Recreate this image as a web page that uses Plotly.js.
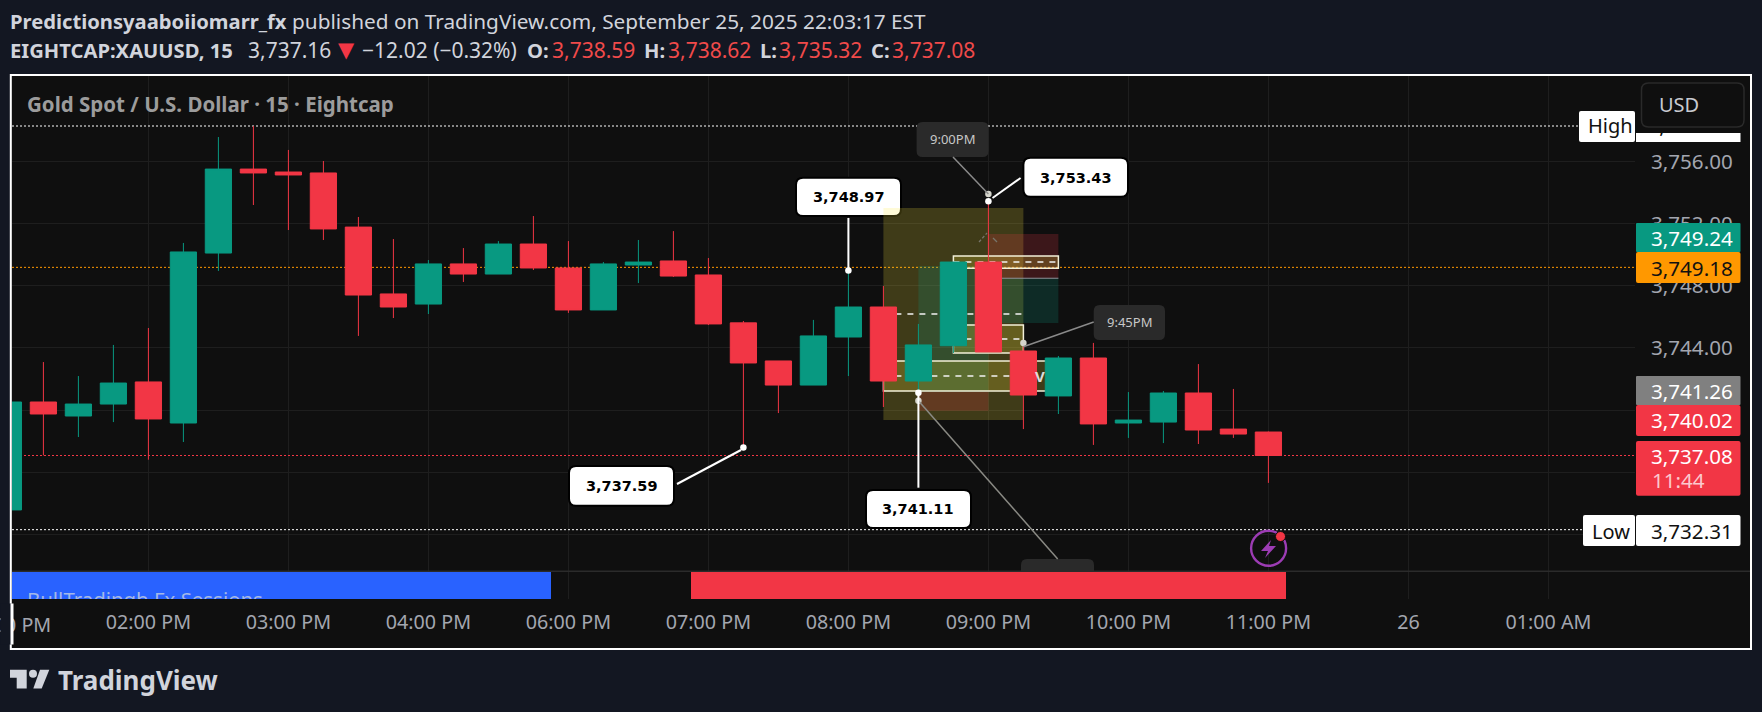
<!DOCTYPE html>
<html><head><meta charset="utf-8">
<script src="https://cdn.plot.ly/plotly-3.0.1.min.js"></script>
<style>html,body{margin:0;padding:0;background:#131722;overflow:hidden}#c{width:1762px;height:712px}</style>
</head><body><div id="c"></div>
<script>
// ---------- data ----------
const barIndex = [-4,-3,-2,-1,0,1,2,3,4,5,6,7,8,9,10,11,12,13,14,15,16,17,18,19,20,21,22,23,24,25,26,27,28,29,30,31,32];
const opens  = [3733.58,3740.52,3739.62,3740.39,3741.81,3739.17,3750.10,3755.50,3755.31,3755.25,3751.77,3747.47,3746.82,3749.40,3748.75,3750.68,3749.14,3746.44,3749.33,3749.59,3748.69,3745.61,3743.16,3741.61,3744.70,3746.63,3741.87,3744.14,3749.52,3743.80,3740.91,3743.35,3739.17,3739.23,3741.10,3738.78,3738.59];
const highs  = [3740.52,3743.09,3742.19,3744.19,3745.28,3750.75,3757.56,3758.27,3756.73,3756.02,3752.42,3751.00,3749.65,3750.42,3750.87,3752.48,3750.87,3749.52,3750.94,3751.51,3749.78,3745.73,3743.16,3745.80,3748.97,3747.98,3745.54,3749.52,3753.43,3744.32,3743.48,3744.32,3741.16,3741.23,3742.96,3741.36,3738.62];
const lows   = [3733.58,3737.09,3738.27,3739.23,3736.81,3737.95,3748.95,3753.19,3751.58,3750.94,3744.77,3745.92,3746.18,3748.24,3748.75,3749.01,3746.25,3746.44,3748.17,3748.56,3745.47,3737.59,3739.81,3741.61,3742.19,3740.20,3741.11,3743.67,3743.74,3738.78,3739.75,3737.76,3738.21,3737.88,3737.82,3738.21,3735.32];
const closes = [3740.52,3739.75,3740.39,3741.74,3739.43,3750.17,3755.50,3755.25,3755.12,3751.65,3747.40,3746.63,3749.40,3748.75,3750.68,3749.14,3746.44,3749.40,3749.52,3748.62,3745.54,3743.03,3741.61,3744.77,3746.63,3741.87,3744.19,3749.52,3743.74,3740.97,3743.35,3739.11,3739.36,3741.10,3738.72,3738.46,3737.08];
const timeTickVals  = [0,4,8,12,16,20,24,28,32,36,40];
const timeTickTexts = ['02:00 PM','03:00 PM','04:00 PM','06:00 PM','07:00 PM','08:00 PM','09:00 PM','10:00 PM','11:00 PM','26','01:00 AM'];
const priceTicks = [3756,3752,3748,3744,3740,3736,3732];
const pivotBars   = [17,20,22,24];
const pivotPrices = [3737.59,3748.97,3741.11,3753.43];
const timeDotBars   = [22,24,25];
const timeDotPrices = [3740.60,3753.90,3744.32];
const sessionStart  = [-12,15.5];
const sessionEnd    = [11.5,32.5];
const sessionColors = ['#2962ff','#f23645'];

// ---------- geometry ----------
const W=1762,H=712;
const pL=12,pR=1635,pT=76,pMid=571.5,pB=599;
const xPx=35, x0Px=148.4;
const pxPerUnit=15.55, y3756=161.3;
const xOf=px=>(px-x0Px)/xPx;
const pOf=py=>3756-(py-y3756)/pxPerUnit;
const fx=x=>x/W, fy=y=>1-y/H;
const green='#089981', red='#f23645', bg='#0f0f0f', page='#131722', grid='#1e1e1e', axisTxt='#a3a6af';
const font='"Noto Sans", sans-serif';
const mono='"DejaVu Sans", sans-serif';

function rrPath(x0,y0,x1,y1,r,mx,my){
  const P=(x,y)=>mx(x)+','+my(y);
  return 'M'+P(x0+r,y0)+' L'+P(x1-r,y0)+' Q'+P(x1,y0)+' '+P(x1,y0+r)+' L'+P(x1,y1-r)+' Q'+P(x1,y1)+' '+P(x1-r,y1)+
         ' L'+P(x0+r,y1)+' Q'+P(x0,y1)+' '+P(x0,y1-r)+' L'+P(x0,y0+r)+' Q'+P(x0,y0)+' '+P(x0+r,y0)+' Z';
}
const paperBox=(x0,y0,x1,y1,r,fill,lc,lw,layer)=>({type:'path',xref:'paper',yref:'paper',layer:layer||'above',path:rrPath(x0,y0,x1,y1,r,fx,fy),fillcolor:fill,line:{color:lc||fill,width:lw==null?0:lw}});
const paperLine=(x0,y0,x1,y1,c,w,dash)=>({type:'line',xref:'paper',yref:'paper',layer:'above',x0:fx(x0),x1:fx(x1),y0:fy(y0),y1:fy(y1),line:{color:c,width:w,dash:dash||'solid'}});
const zone=(a,b,p0,p1,fill,lc,lw)=>({type:'rect',xref:'x',yref:'y',layer:'between',x0:a,x1:b,y0:p0,y1:p1,fillcolor:fill,line:{color:lc||'rgba(0,0,0,0)',width:lw||0}});
const hl=(a,b,p,c,w,dash)=>({type:'line',xref:'x',yref:'y',layer:'between',x0:a,x1:b,y0:p,y1:p,line:{color:c,width:w,dash:dash||'solid'}});
const txt=(t,x,y,size,color,o)=>Object.assign({text:t,xref:'paper',yref:'paper',x:fx(x),y:fy(y),xanchor:'left',yanchor:'middle',showarrow:false,borderpad:0,font:{family:font,size:size,color:color}},o||{});

const xMin=xOf(pL),xMax=xOf(pR);
const yel='rgba(255,235,59,0.2)';
const shapes=[];
const annots=[];

// frame
shapes.push({type:'rect',xref:'paper',yref:'paper',layer:'below',x0:fx(10.8),x1:fx(1751),y0:fy(75),y1:fy(649),fillcolor:bg,line:{color:'#ffffff',width:2}});

// horizontal level lines
const dots='2px,2px';
shapes.push(hl(xMin,xMax,3758.27,'#ffffff',1,dots));
shapes.push(hl(xMin,xMax,3732.31,'#ffffff',1,dots));
shapes.push(hl(xMin,xMax,3749.18,'#ff9800',1,dots));
shapes.push(hl(xMin,xMax,3737.08,'#f23645',1,dots));

// callout below the drawings
shapes.push({type:'path',xref:'x',yref:'y',layer:'between',path:rrPath(796,177.7,901,216,7,xOf,pOf),fillcolor:'#ffffff',line:{color:'#000000',width:2}});
shapes.push({type:'line',xref:'x',yref:'y',layer:'between',x0:20,x1:20,y0:pOf(218),y1:3748.97,line:{color:'#ffffff',width:2}});

// drawings behind the candles
shapes.push(zone(21,25,3753.0,3739.36,yel));
shapes.push(zone(22,24,3749.27,3741.18,'rgba(8,153,129,0.2)'));
shapes.push(zone(22,24,3741.18,3739.96,'rgba(242,54,69,0.2)'));
shapes.push(zone(24,26,3751.32,3748.48,'rgba(242,54,69,0.2)'));
shapes.push(zone(24,26,3748.48,3745.6,'rgba(8,153,129,0.2)'));
shapes.push(hl(24,26,3748.48,'#8d9199',1));
shapes.push(zone(23,26,3749.91,3749.12,yel,'#f2efd8',1.5));
shapes.push(zone(23,25,3745.47,3743.67,yel,'#f2efd8',1.5));
shapes.push(zone(21,26,3743.16,3741.23,yel,'#f2efd8',1.5));
shapes.push(hl(21,25,3746.18,'#f2f2f2',1.5,'6px,6px'));
shapes.push(hl(23,26,3749.52,'#f2f2f2',1.5,'6px,6px'));
shapes.push(hl(23,25,3744.57,'#f2f2f2',1.5,'6px,6px'));
shapes.push(hl(21,25,3742.2,'#f2f2f2',1.5,'6px,6px'));
// little mark on the drawing
shapes.push(paperLine(979,242,987,233,'#77756a',1.2,'3px,2px'));
shapes.push(paperLine(993,238,997,242,'#77756a',1.2));

// separator of session pane
shapes.push(paperLine(12,571.3,1750,571.3,'#2b2b2b',1.5));

// clipped dark label on top of the strip
shapes.push({type:'path',xref:'paper',yref:'paper',layer:'below',path:rrPath(1021,559,1094,590,6,fx,fy),fillcolor:'#2a2a2a',line:{color:'#2a2a2a',width:0}});
shapes.push(paperLine(918.4,400.7,1057.7,559,'#8a8a84',1.5));

// callouts above
shapes.push(paperBox(1023.4,157.7,1128,196.7,7,'#ffffff','#000000',2));
shapes.push(paperLine(1020.6,178,992.5,198,'#ffffff',2));
shapes.push(paperBox(569,466,674,505.7,7,'#ffffff','#000000',2));
shapes.push(paperLine(677,484,741,450,'#ffffff',2));
shapes.push(paperBox(866,490,971,528,7,'#ffffff','#000000',2));
shapes.push(paperLine(918.4,393,918.4,487.7,'#ffffff',2));
shapes.push(paperBox(916.6,122,988.5,157,6,'#2a2a2a'));
shapes.push(paperLine(953,157,988.4,194,'#8a8a8a',1.5));
shapes.push(paperBox(1093.7,305,1165,340,6,'#2a2a2a'));
shapes.push(paperLine(1093.7,322,1023.4,346.7,'#8a8a8a',1.5));

// price scale labels
shapes.push(paperBox(1579,111,1635,142,2,'#ffffff'));
// High value, mostly hidden by the USD button
shapes.push({type:'rect',xref:'paper',yref:'paper',layer:'above',x0:fx(1636),x1:fx(1740.5),y0:fy(111),y1:fy(142),fillcolor:'#ffffff',line:{width:0},
  label:{text:'3,758.27',font:{family:font,size:20.6,color:'#111111'},textposition:'middle center'}});
shapes.push(paperBox(1636,223,1740.5,252,1,green));
shapes.push(paperBox(1636,252,1740.5,283,2,'#ff9800'));
shapes.push(paperBox(1636,376,1740.5,405,1,'#808080'));
shapes.push(paperBox(1636,405,1740.5,436,2,red));
shapes.push(paperBox(1636,441,1740.5,495.7,2,red));
shapes.push(paperBox(1583,515,1635,546,2,'#ffffff'));
shapes.push(paperBox(1636,515,1740.5,546,2,'#ffffff'));
// USD button
shapes.push(paperBox(1636,79,1750,133,0,bg));
shapes.push(paperBox(1641.5,83,1744,127,7,bg,'#2a2a2a',1.5));

// lightning badge
const cx=1268.6,cy=548.3,cr=17.5;
shapes.push({type:'circle',xref:'paper',yref:'paper',layer:'above',x0:fx(cx-cr),x1:fx(cx+cr),y0:fy(cy-cr),y1:fy(cy+cr),fillcolor:'rgba(0,0,0,0)',line:{color:'#9c3cb4',width:2.4}});
const path=(pts)=>'M'+pts.map(p=>fx(p[0])+','+fy(p[1])).join(' L')+' Z';
shapes.push({type:'path',xref:'paper',yref:'paper',layer:'above',path:path([[1271,540],[1261,551],[1268,551],[1265,558],[1276,546],[1269,546]]),fillcolor:'#9c3cb4',line:{width:0}});
shapes.push({type:'circle',xref:'paper',yref:'paper',layer:'above',x0:fx(1275.5),x1:fx(1285.5),y0:fy(531.5),y1:fy(541.5),fillcolor:'#f23645',line:{color:bg,width:1}});

// TradingView logo
const logo='#d1d4dc';
shapes.push({type:'path',xref:'paper',yref:'paper',layer:'above',path:path([[10,669.7],[26.7,669.7],[26.7,688.5],[16.7,688.5],[16.7,677.7],[10,677.7]]),fillcolor:logo,line:{width:0}});
shapes.push({type:'path',xref:'paper',yref:'paper',layer:'above',path:path([[40,669.7],[49.3,669.7],[41.7,688.5],[33.3,688.5]]),fillcolor:logo,line:{width:0}});
shapes.push({type:'circle',xref:'paper',yref:'paper',layer:'above',x0:fx(29),x1:fx(37),y0:fy(669.7),y1:fy(677.7),fillcolor:logo,line:{width:0}});

// ---------- text ----------
const hdr='#d1d4dc', bs=20.2, ns=21;
annots.push(txt('<b>Predictionsyaaboiiomarr_fx</b>',9,21,bs,hdr));
annots.push(txt('published on TradingView.com, September 25, 2025 22:03:17 EST',291,21,20.8,hdr));
annots.push(txt('<b>EIGHTCAP:XAUUSD, 15</b>',9,50,bs,hdr));
annots.push(txt('3,737.16',247,50,ns,hdr));
annots.push(txt('▼',337,50,21,'#f23645',{font:{family:mono,size:21,color:'#f23645'}}));
annots.push(txt('−12.02 (−0.32%)',361,50,ns,hdr));
[['O:',526,'3,738.59',551],['H:',643,'3,738.62',667],['L:',759,'3,735.32',778],['C:',870,'3,737.08',891]].forEach(r=>{
  annots.push(txt('<b>'+r[0]+'</b>',r[1],50,bs,hdr));
  annots.push(txt(r[2],r[3],50,ns,'#f04a4a'));
});
annots.push(txt('<b>Gold Spot / U.S. Dollar · 15 · Eightcap</b>',26,104,20.5,'#9c9c9c',{}));

const callout=(t,x,y)=>txt('<b>'+t+'</b>',x,y,14.5,'#000000',{xanchor:'center',font:{family:mono,size:14.5,color:'#000'}});
annots.push(callout('3,748.97',848.5,197));
annots.push(callout('3,753.43',1076,177.5));
annots.push(callout('3,737.59',621.5,486));
annots.push(callout('3,741.11',918.5,509));
annots.push(txt('9:00PM',952.5,139.5,13,'#c8c8c8',{xanchor:'center'}));
annots.push(txt('9:45PM',1129.5,322,13,'#c8c8c8',{xanchor:'center'}));
annots.push(txt('<b>V</b>',1040,376,15,'#dcdcdc',{xanchor:'center'}));

const lab=(t,y,c)=>txt(t,1692,y,20.6,c,{xanchor:'center'});
annots.push(lab('3,749.24',237.5,'#ffffff'));
annots.push(lab('3,749.18',267.5,'#111111'));
annots.push(lab('3,741.26',391,'#ffffff'));
annots.push(lab('3,740.02',420.5,'#ffffff'));
annots.push(lab('3,737.08',456,'#ffffff'));
annots.push(txt('11:44',1650.5,480,20.6,'#fbc9ce'));
annots.push(lab('3,732.31',530.5,'#111111'));
annots.push(txt('Low',1591,531,20,'#111111'));
annots.push(txt('High',1587,125.5,20,'#111111'));
annots.push(txt('USD',1658,104.5,20,'#c8cad0'));
annots.push(txt('<b>TradingView</b>',56.5,680,26,logo));

// first time label, cut by the frame
annots.push(txt('01:00 PM',8.4,624,19.7,axisTxt,{xanchor:'center'}));
annots.push(txt(' ',0,624,8,page,{width:10,height:40,bgcolor:page}));
annots.push(txt(' ',10,624,8,'#fff',{width:2,height:40,bgcolor:'#ffffff'}));

// ---------- traces ----------
const traces=[
 {type:'candlestick',x:barIndex,open:opens,high:highs,low:lows,close:closes,xaxis:'x',yaxis:'y',
  whiskerwidth:0,hoverinfo:'skip',showlegend:false,
  increasing:{line:{color:green,width:1},fillcolor:green},
  decreasing:{line:{color:red,width:1},fillcolor:red}},
 {type:'scatter',mode:'markers',x:timeDotBars,y:timeDotPrices,xaxis:'x',yaxis:'y',hoverinfo:'skip',showlegend:false,
  marker:{color:'#d5d5cc',size:6.5,line:{width:0}}},
 {type:'scatter',mode:'markers',x:pivotBars,y:pivotPrices,xaxis:'x',yaxis:'y',hoverinfo:'skip',showlegend:false,
  marker:{color:'#ffffff',size:6.5,line:{width:0}}},
 {type:'bar',x:sessionStart.map((s,i)=>(s+sessionEnd[i])/2),width:sessionStart.map((s,i)=>sessionEnd[i]-s),y:[1,1],base:[0,0],
  xaxis:'x',yaxis:'y2',hoverinfo:'skip',showlegend:false,marker:{color:sessionColors,line:{width:0}}},
 {type:'scatter',mode:'text',x:[xOf(27)],y:[-0.09],text:['BullTradingh Fx Sessions'],textposition:'middle right',cliponaxis:true,
  xaxis:'x',yaxis:'y2',hoverinfo:'skip',showlegend:false,textfont:{family:font,size:20.4,color:'#a3b8e8'}}
];

const layout={
 width:W,height:H,margin:{l:0,r:0,t:0,b:0,pad:0},
 paper_bgcolor:page,plot_bgcolor:bg,showlegend:false,hovermode:false,dragmode:false,
 bargap:0,boxgap:0.25,boxgroupgap:0,
 xaxis:{type:'linear',domain:[fx(pL),fx(pR)],range:[xMin,xMax],anchor:'y2',tickmode:'array',tickvals:timeTickVals,ticktext:timeTickTexts,
   tickfont:{family:font,size:19.7,color:axisTxt},ticks:'',ticklabelstandoff:9,showgrid:true,gridcolor:grid,gridwidth:1,zeroline:false,showline:false,rangeslider:{visible:false},automargin:false},
 yaxis:{type:'linear',domain:[fy(pMid),fy(pT)],range:[pOf(pMid),pOf(pT)],anchor:'x',side:'right',tickmode:'array',tickvals:priceTicks,
   tickformat:',.2f',tickfont:{family:font,size:20.6,color:axisTxt},ticks:'',ticklabelstandoff:15,showgrid:true,gridcolor:grid,gridwidth:1,zeroline:false,showline:false,automargin:false},
 yaxis2:{domain:[fy(pB),fy(pMid)],range:[0,1],anchor:'x',visible:false,showgrid:false,zeroline:false,fixedrange:true},
 shapes:shapes,annotations:annots
};
Plotly.newPlot('c',traces,layout,{displayModeBar:false,staticPlot:true});
</script></body></html>
